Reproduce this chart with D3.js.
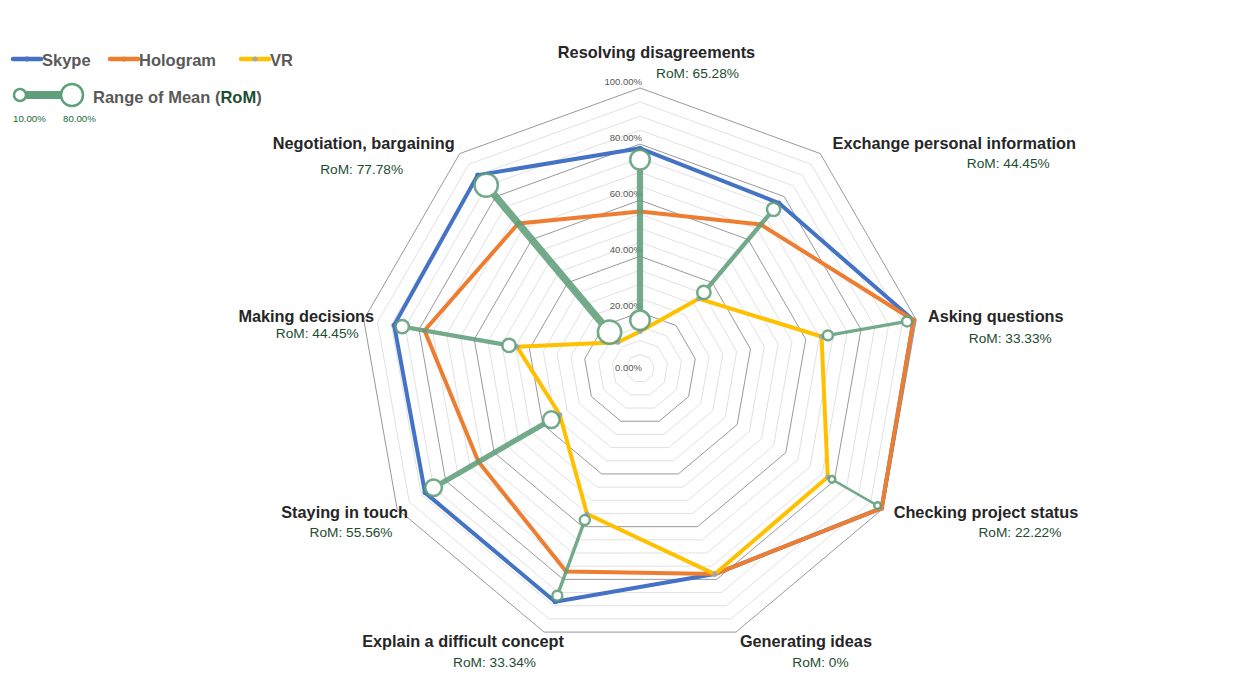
<!DOCTYPE html>
<html>
<head>
<meta charset="utf-8">
<script src="https://cdn.jsdelivr.net/npm/d3@7"></script>
<style>
  body { margin: 0; background: #fff; }
  svg text { font-family: "Liberation Sans", Arial, sans-serif; }
</style>
</head>
<body>
<div id="radar"></div>
<script>
// data (percent)
const axes = ["Resolving disagreements", "Exchange personal information", "Asking questions",
  "Checking project status", "Generating ideas", "Explain a difficult concept",
  "Staying in touch", "Making decisions", "Negotiation, bargaining"];
const skype    = [78.5, 77.0, 99.0, 99.5, 78.0, 88.5, 88.5, 89.0, 90.0];
const hologram = [56.0, 67.0, 99.0, 99.5, 78.0, 77.0, 66.5, 78.0, 67.5];
const vr       = [13.2, 32.5, 65.7, 77.3, 78.0, 55.2, 33.0, 44.5, 12.2];
const romLabels = ["65.28%", "44.45%", "33.33%", "22.22%", "0%", "33.34%", "55.56%", "44.45%", "77.78%"];
const tickValues = [0, 20, 40, 60, 80, 100];
const seriesNames = ["Skype", "Hologram", "VR"];

const width = 1250, height = 683;
const cx = 640, cy = 368.5, R = 280.5;
const colors = { Skype: "#4472C4", Hologram: "#ED7D31", VR: "#FFC000" };
const green = "#5f9f7b";

// label nudges from the outer vertex: [label dx, label dy, rom dx, rom dy]
const labelNudge = [
  [16.5, -30, 57.5, -10], [134, -4.5, 188, 14], [79.5, 2, 94, 23],
  [103, 9.5, 137, 28], [70, 15, 84.5, 35], [-81, 15, -49.5, 35],
  [-52.5, 9.5, -46, 28.5], [-57.5, 2, -46.5, 18.5], [-96, -4.5, -98, 20]
];

const svg = d3.select("#radar").append("svg")
  .attr("width", width).attr("height", height);

const r = d3.scaleLinear().domain([0, 100]).range([0, R]);
const angle = d3.scaleLinear().domain([0, axes.length]).range([0, 2 * Math.PI]);
const pt = (i, v) => [cx + r(v) * Math.sin(angle(i)), cy - r(v) * Math.cos(angle(i))];

// grid: minor every 5%, major every 20%
const gridLevels = d3.range(5, 101, 5);
const poly = v => axes.map((a, i) => pt(i, v));
svg.append("g").selectAll("polygon")
  .data(gridLevels)
  .join("polygon")
  .attr("points", v => poly(v).join(" "))
  .attr("fill", "none")
  .attr("stroke", v => v % 20 === 0 ? "#7f7f7f" : "#d9d9d9")
  .attr("stroke-width", 0.8);

// tick labels
svg.append("g").selectAll("text")
  .data(tickValues)
  .join("text")
  .attr("x", 642)
  .attr("y", v => cy - r(v) + (v === 0 ? 2 : -3))
  .attr("text-anchor", "end")
  .attr("font-size", 9.5)
  .attr("fill", "#595959")
  .text(v => v.toFixed(2) + "%");

// series lines
const line = d3.line().curve(d3.curveLinearClosed);
const seriesData = [skype, hologram, vr];
seriesData.forEach((vals, k) => {
  const name = seriesNames[k];
  svg.append("path")
    .attr("d", line(vals.map((v, i) => pt(i, v))))
    .attr("fill", "none")
    .attr("stroke", colors[name])
    .attr("stroke-width", 4)
    .attr("stroke-linejoin", "round");
  svg.append("g").selectAll("circle")
    .data(vals)
    .join("circle")
    .attr("cx", (v, i) => pt(i, v)[0])
    .attr("cy", (v, i) => pt(i, v)[1])
    .attr("r", 2.5)
    .attr("fill", name === "VR" ? "#a5a5a5" : colors[name]);
});

// range of mean: line from min to max with circles sized by range
const rangeData = axes.map((a, i) => {
  const vals = seriesData.map(s => s[i]);
  return { i, min: d3.min(vals), max: d3.max(vals) };
});
const dotR = d3.scaleLinear().domain([0, 80]).range([0, 12]);
const bar = d3.scaleLinear().domain([0, 80]).range([0.5, 7.5]);
const gRange = svg.append("g").attr("opacity", 0.88);
rangeData.filter(d => d.max - d.min > 0.5).forEach(d => {
  const rom = d.max - d.min;
  const rad = dotR(rom);
  const off = r.invert(rad + 1.5);
  const a = pt(d.i, d.max - off), b = pt(d.i, d.min + off);
  gRange.append("line")
    .attr("x1", a[0]).attr("y1", a[1]).attr("x2", b[0]).attr("y2", b[1])
    .attr("stroke", green)
    .attr("stroke-width", bar(rom));
  [a, b].forEach(p => {
    gRange.append("circle")
      .attr("cx", p[0]).attr("cy", p[1]).attr("r", rad)
      .attr("fill", "#fff")
      .attr("stroke", green).attr("stroke-width", 2.5);
  });
});

// axis labels + RoM
axes.forEach((name, i) => {
  const v = pt(i, 100), n = labelNudge[i];
  svg.append("text")
    .attr("x", v[0] + n[0]).attr("y", v[1] + n[1])
    .attr("text-anchor", "middle")
    .attr("font-size", 16.3).attr("font-weight", "bold")
    .attr("fill", "#262626")
    .text(name);
  svg.append("text")
    .attr("x", v[0] + n[2]).attr("y", v[1] + n[3])
    .attr("text-anchor", "middle")
    .attr("font-size", 13.7)
    .attr("fill", "#1d4d2f")
    .text("RoM: " + romLabels[i]);
});

// legend
const legendX = [13, 110, 241];
const legend = svg.append("g");
seriesNames.forEach((name, k) => {
  const x = legendX[k];
  legend.append("line")
    .attr("x1", x).attr("x2", x + 28).attr("y1", 59).attr("y2", 59)
    .attr("stroke", colors[name]).attr("stroke-width", 4.5)
    .attr("stroke-linecap", "round");
  legend.append("circle")
    .attr("cx", x + 14).attr("cy", 59).attr("r", 2.5)
    .attr("fill", name === "VR" ? "#a5a5a5" : colors[name]);
  legend.append("text")
    .attr("x", x + 29).attr("y", 66)
    .attr("font-size", 16.5).attr("font-weight", "bold")
    .attr("fill", "#595959")
    .text(name);
});

legend.append("line")
  .attr("x1", 20).attr("x2", 72).attr("y1", 95).attr("y2", 95)
  .attr("stroke", green).attr("stroke-width", 8);
[[20, 6], [72, 11]].forEach(c => {
  legend.append("circle")
    .attr("cx", c[0]).attr("cy", 95).attr("r", c[1])
    .attr("fill", "#fff").attr("stroke", green).attr("stroke-width", 2.5);
});
const romLegend = legend.append("text")
  .attr("x", 93).attr("y", 103)
  .attr("font-size", 16.5).attr("font-weight", "bold")
  .attr("fill", "#595959");
romLegend.append("tspan").text("Range of Mean (");
romLegend.append("tspan").attr("fill", "#1d4d2f").text("RoM");
romLegend.append("tspan").text(")");
[[13, "10.00%"], [63, "80.00%"]].forEach(t => {
  legend.append("text")
    .attr("x", t[0]).attr("y", 122)
    .attr("font-size", 9.7)
    .attr("fill", "#17693a")
    .text(t[1]);
});
</script>
</body>
</html>
